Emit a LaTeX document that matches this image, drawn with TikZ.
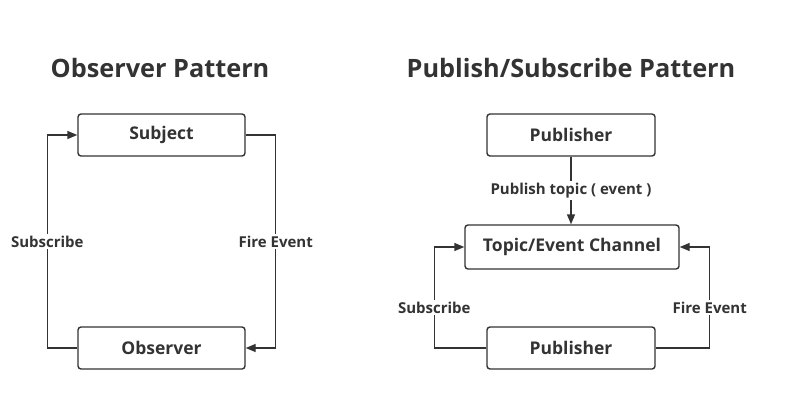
\documentclass[tikz,border=0pt]{standalone}
\usepackage{fontspec}
\setmainfont{Open Sans}
\usetikzlibrary{arrows.meta}
\definecolor{ink}{HTML}{333333}
\tikzset{
  box/.style={draw=ink,line width=1.4pt,rounded corners=3pt,minimum height=42pt,text=ink,font=\fontsize{17.5}{20}\selectfont\bfseries},
  conn/.style={draw=ink,line width=1.4pt},
  arr/.style={conn,-{Triangle[length=10pt,width=8pt]}},
  lbl/.style={fill=white,text=ink,inner sep=2pt,font=\fontsize{15}{17}\selectfont\bfseries},
  heading/.style={text=ink,font=\fontsize{25.3}{30}\selectfont\bfseries}
}
\begin{document}
\begin{tikzpicture}[x=1pt,y=1pt]
\useasboundingbox (0,0) rectangle (799,400);
% observer pattern
\node[heading] (otitle) at (160,332) {Observer Pattern};
\node[box,minimum width=167pt] (subj) at (161.5,265) {Subject};
\node[box,minimum width=167pt] (obs) at (161.5,52) {Observer};
\draw[arr] (obs.west) -- ++(-30,0) |- node[pos=0.25,lbl] {Subscribe} (subj.west);
\draw[arr] (subj.east) -- ++(30,0) |- node[pos=0.25,lbl] {Fire Event} (obs.east);
% publish/subscribe pattern
\node[heading] (ptitle) at (571,332) {Publish/Subscribe Pattern};
\node[box,minimum width=168pt] (pub) at (571,265) {Publisher};
\node[box,minimum width=214pt,minimum height=44pt] (chan) at (572,153) {Topic/Event Channel};
\node[box,minimum width=168pt] (sub) at (571,52) {Publisher};
\draw[arr] (pub.south) -- node[lbl] {Publish topic ( event )} (pub.south |- chan.north);
\draw[arr] (sub.west) -- ++(-52,0) |- node[pos=0.2,lbl] {Subscribe} (chan.west);
\draw[arr] (sub.east) -- ++(54,0) |- node[pos=0.2,lbl] {Fire Event} (chan.east);
\end{tikzpicture}
\end{document}
